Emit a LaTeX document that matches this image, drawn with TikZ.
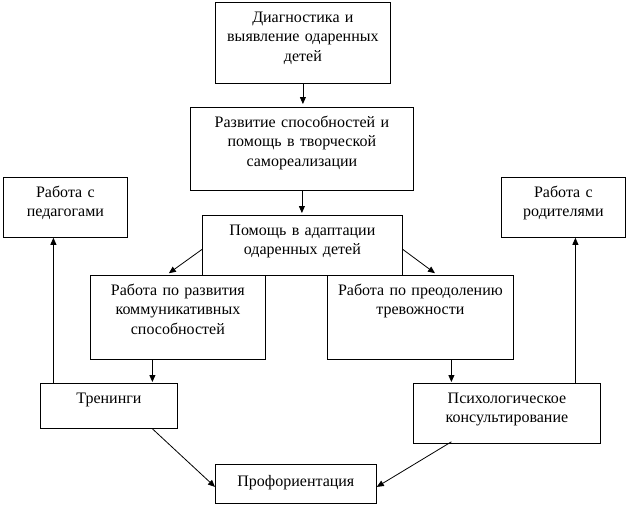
\documentclass[tikz,border=0pt]{standalone}
\usepackage{fontspec}
\setmainfont{Liberation Serif}
\usetikzlibrary{arrows.meta}

\begin{document}
\begin{tikzpicture}[x=1pt, y=-1pt, line width=0.8pt,
      box/.style={draw, inner sep=0pt, align=center, anchor=north west, text height=20pt,
            font=\fontsize{16}{19.5}\selectfont},
      arr/.style={-{Triangle[length=7pt, width=6pt]}}]
      \useasboundingbox (0,0) rectangle (629,507);

      \node[box, text width=175pt, text depth=61pt] (diag) at (215,2) {Диагностика и\\ выявление одаренных\\ детей};
      \node[box, text width=223pt, text depth=63pt] (razv) at (190,107) {Развитие способностей и\\ помощь в творческой\\ самореализации};
      \node[box, text width=200pt, text depth=40pt] (pomosh) at (202,215) {Помощь в адаптации\\ одаренных детей};
      \node[box, text width=124pt, text depth=40pt] (ped) at (3,177) {Работа с\\ педагогами};
      \node[box, text width=124pt, text depth=40pt] (rod) at (501,177) {Работа с\\ родителями};
      \node[box, text width=175pt, text depth=64pt] (razvitie) at (90,275) {Работа по развития\\ коммуникативных\\ способностей};
      \node[box, text width=186pt, text depth=64pt] (trevoga) at (327,275) {Работа по преодолению\\ тревожности};
      \node[box, text width=137pt, text depth=25pt] (trening) at (40,383) {Тренинги};
      \node[box, text width=187pt, text depth=40pt] (konsult) at (413,383) {Психологическое\\ консультирование};
      \node[box, text width=161pt, text height=22pt, text depth=17pt] (proforient) at (215,464) {Профориентация};

      \draw[arr, shorten >=3pt] (diag.south) -- (diag.south |- razv.north);
      \draw[arr, shorten >=2pt] (razv.south) -- (razv.south |- pomosh.north);
      \draw[arr, shorten >=3pt] ([yshift=-4pt]pomosh.west) -- ([xshift=-11.5pt]razvitie.north);
      \draw[arr, shorten >=3pt] ([yshift=-4pt]pomosh.east) -- ([xshift=17pt]trevoga.north);
      \draw[arr, shorten >=1pt] ([xshift=-25.5pt]razvitie.south) -- ([xshift=-25.5pt]razvitie.south |- trening.north);
      \draw[arr, shorten >=1pt] ([xshift=31pt]trevoga.south) -- ([xshift=31pt]trevoga.south |- konsult.north);
      \draw[arr] ([xshift=43.5pt]trening.south) -- ([yshift=-3pt]proforient.west);
      \draw[arr] ([xshift=-55.5pt, yshift=2pt]konsult.south) -- ([yshift=-3pt]proforient.east);
      \draw[arr] ([xshift=-12pt]ped.south |- trening.north) -- ([xshift=-12pt]ped.south);
      \draw[arr] ([xshift=12pt]rod.south |- konsult.north) -- ([xshift=12pt]rod.south);
\end{tikzpicture}
\end{document}
